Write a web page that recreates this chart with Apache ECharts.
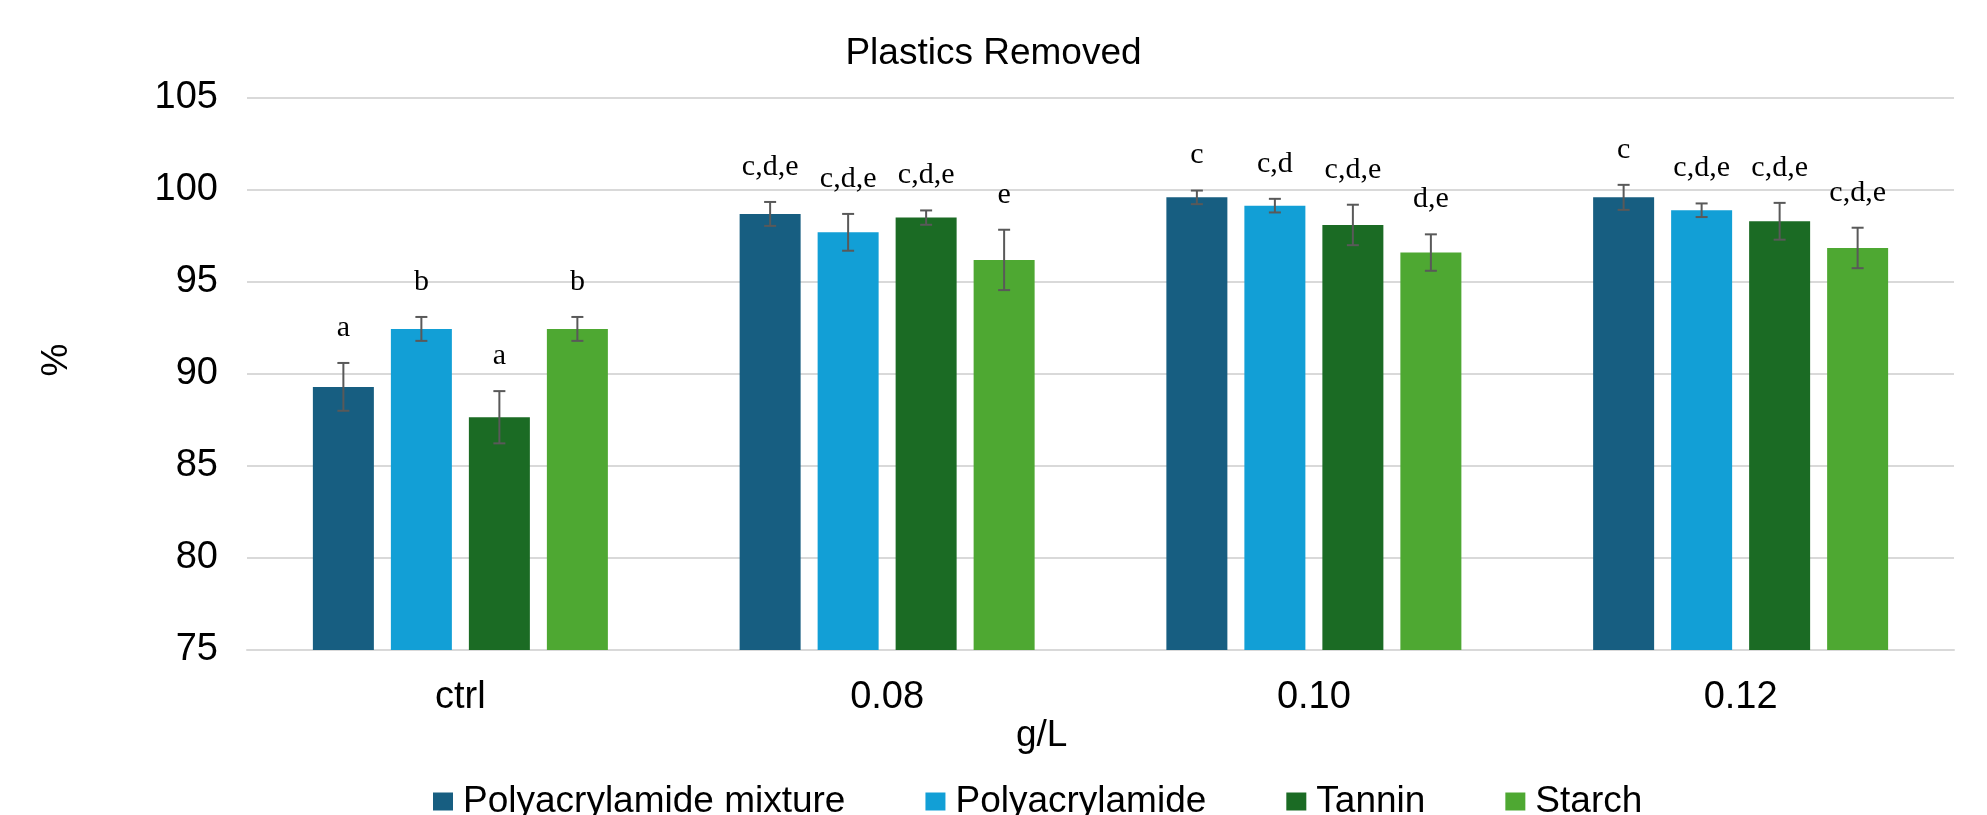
<!DOCTYPE html>
<html>
<head>
<meta charset="utf-8">
<script src="https://cdn.jsdelivr.net/npm/echarts@6/dist/echarts.min.js"></script>
<style>html,body{margin:0;padding:0;background:#fff}#c{width:1987px;height:815px}</style>
</head>
<body>
<div id="c"></div>
<script>
const categories = ['ctrl', '0.08', '0.10', '0.12'];
const seriesNames = ['Polyacrylamide mixture', 'Polyacrylamide', 'Tannin', 'Starch'];
const pamMix = [89.3, 98.7, 99.6, 99.6];
const pam = [92.45, 97.7, 99.15, 98.9];
const tannin = [87.65, 98.5, 98.1, 98.3];
const starch = [92.45, 96.2, 96.6, 96.85];
const pamMixErr = [1.3, 0.65, 0.37, 0.68];
const pamErr = [0.65, 1.0, 0.37, 0.37];
const tanninErr = [1.42, 0.39, 1.1, 1.0];
const starchErr = [0.65, 1.64, 0.99, 1.1];
const pamMixLetters = ['a', 'c,d,e', 'c', 'c'];
const pamLetters = ['b', 'c,d,e', 'c,d', 'c,d,e'];
const tanninLetters = ['a', 'c,d,e', 'c,d,e', 'c,d,e'];
const starchLetters = ['b', 'e', 'd,e', 'c,d,e'];
const yTicks = [75, 80, 85, 90, 95, 100, 105];

const values = [pamMix, pam, tannin, starch];
const errs = [pamMixErr, pamErr, tanninErr, starchErr];
const letters = [pamMixLetters, pamLetters, tanninLetters, starchLetters];
const colors = ['#175E81', '#129FD6', '#1B6B24', '#4EA832'];

const SANS = '"Liberation Sans", Arial, sans-serif';
const SERIF = '"Liberation Serif", "Times New Roman", serif';
const BAR_W = 61, BAR_GAP = 17;

const chart = echarts.init(document.getElementById('c'), null, {renderer: 'canvas'});

const series = [];
values.forEach((vals, i) => {
  series.push({
    name: seriesNames[i],
    type: 'bar',
    data: vals,
    barWidth: BAR_W,
    barGap: (BAR_GAP / BAR_W * 100) + '%',
    itemStyle: {color: colors[i]},
    z: 2
  });
});
values.forEach((vals, i) => {
  const offset = (i - 1.5) * (BAR_W + BAR_GAP);
  series.push({
    name: 'err' + i,
    type: 'custom',
    z: 5,
    data: vals.map((v, k) => [k, v, errs[i][k]]),
    renderItem: function (params, api) {
      const k = api.value(0), v = api.value(1), e = api.value(2);
      const top = api.coord([k, v + e]);
      const bot = api.coord([k, v - e]);
      const cx = top[0] + offset;
      const cap = 6;
      const ls = {stroke: '#595959', lineWidth: 2};
      return {
        type: 'group',
        children: [
          {type: 'line', shape: {x1: cx, y1: top[1], x2: cx, y2: bot[1]}, style: ls},
          {type: 'line', shape: {x1: cx - cap, y1: top[1], x2: cx + cap, y2: top[1]}, style: ls},
          {type: 'line', shape: {x1: cx - cap, y1: bot[1], x2: cx + cap, y2: bot[1]}, style: ls},
          {type: 'text', style: {
            text: letters[i][params.dataIndex], x: cx, y: top[1] - 20,
            textAlign: 'center', textVerticalAlign: 'bottom',
            fontFamily: SERIF, fontSize: 30, fill: '#000'
          }}
        ]
      };
    }
  });
});

chart.setOption({
  animation: false,
  backgroundColor: '#fff',
  title: {
    text: 'Plastics Removed', left: 'center', top: 30,
    textStyle: {fontFamily: SANS, fontSize: 37, fontWeight: 'normal', color: '#000'}
  },
  grid: {left: 247, right: 33, top: 98, bottom: 165, containLabel: false},
  legend: {
    data: seriesNames, left: 428, top: 778,
    icon: 'rect', itemWidth: 20, itemHeight: 18, itemGap: 80,
    textStyle: {fontFamily: SANS, fontSize: 37, color: '#000', padding: [0, 0, 0, 5]}
  },
  xAxis: {
    type: 'category', data: categories,
    axisLine: {show: true, lineStyle: {color: '#D9D9D9', width: 2}},
    axisTick: {show: false},
    axisLabel: {fontFamily: SANS, fontSize: 38, color: '#000', margin: 29}
  },
  yAxis: {
    type: 'value', min: yTicks[0], max: yTicks[yTicks.length - 1], interval: 5,
    axisLine: {show: false}, axisTick: {show: false},
    splitLine: {lineStyle: {color: '#D9D9D9', width: 2}},
    axisLabel: {fontFamily: SANS, fontSize: 38, color: '#000', margin: 29}
  },
  graphic: [
    {type: 'text', left: 1044 - 28, top: 717, style: {text: 'g/L', fontFamily: SANS, fontSize: 37, fill: '#000'}},
    {type: 'text', x: 57, y: 360, rotation: Math.PI / 2, style: {text: '%', fontFamily: SANS, fontSize: 37, fill: '#000', textAlign: 'center', textVerticalAlign: 'middle'}}
  ],
  series: series
});
</script>
</body>
</html>
